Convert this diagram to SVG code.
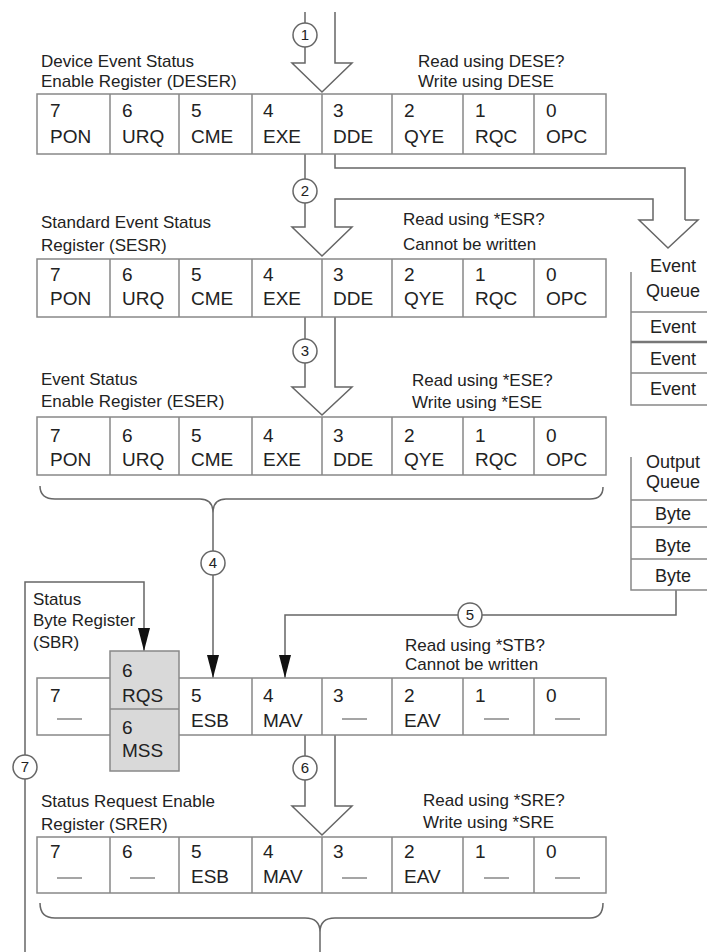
<svg xmlns="http://www.w3.org/2000/svg" width="707" height="952" viewBox="0 0 707 952">
<style>
text{font-family:"Liberation Sans",Arial,sans-serif;fill:#222}
.c{font-size:19px}
.l{font-size:17px}
.q{font-size:18px;text-anchor:middle}
.n{font-size:15px;text-anchor:middle}
.box{fill:#fff;stroke:#888;stroke-width:1.5}
.div{fill:none;stroke:#888;stroke-width:1.5}
.w{fill:none;stroke:#666;stroke-width:1.5}
.d{fill:none;stroke:#888;stroke-width:1.5}
.o{fill:#fff;stroke:#666;stroke-width:1.5}
</style>
<defs>
<marker id="ah" viewBox="0 0 23 12" refX="23" refY="6" markerWidth="23" markerHeight="12" markerUnits="userSpaceOnUse" orient="auto">
<path d="M0,0 L23,6 L0,12 Z" fill="#111"/>
</marker>
</defs>
<rect width="707" height="952" fill="#fff"/>

<g id="connectors">
<path class="w" d="M305,12 V23"/>
<circle class="o" cx="305" cy="35" r="12"/>
<path class="w" d="M305,47 V63 H292 L322,92 L352,63 H335 V12"/>
<path class="w" d="M335,154 V168 H685 V220"/>
<path class="w" d="M305,154 V179"/>
<circle class="o" cx="305" cy="191" r="12"/>
<path class="w" d="M305,203 V227 H292 L322,256 L352,227 H335 V199 H653 V220 H639 L668,248 L698,220 H685"/>
<path class="w" d="M305,317 V339"/>
<circle class="o" cx="305" cy="351" r="12"/>
<path class="w" d="M305,363 V387 H292 L322,415 L352,387 H335 V317"/>
<path class="w" d="M40,486 Q40,499 55,499 H200 Q213,499 213,513 Q213,499 226,499 H590 Q603,499 603,487"/>
<path class="w" d="M213,513 V551"/>
<circle class="o" cx="213" cy="563" r="12"/>
<path class="w" d="M213,575 V678" marker-end="url(#ah)"/>
<path class="w" d="M676,590 V615 H482"/>
<circle class="o" cx="470" cy="615" r="12"/>
<path class="w" d="M458,615 H285 V678" marker-end="url(#ah)"/>
<path class="w" d="M305,735 V756"/>
<circle class="o" cx="305" cy="768" r="12"/>
<path class="w" d="M305,780 V806 H292 L322,835 L352,806 H335 V735"/>
<path class="w" d="M40,903 Q40,918 55,918 H305 Q320,918 320,932 Q320,918 335,918 H590 Q603,918 603,903"/>
<path class="w" d="M320,932 V952"/>
<path class="w" d="M25,952 V779"/>
<circle class="o" cx="25" cy="767" r="12"/>
<path class="w" d="M25,755 V582 H144 V651" marker-end="url(#ah)"/>
<text class="n" x="305" y="40">1</text>
<text class="n" x="305" y="196">2</text>
<text class="n" x="305" y="356">3</text>
<text class="n" x="213" y="568">4</text>
<text class="n" x="470" y="620">5</text>
<text class="n" x="305" y="773">6</text>
<text class="n" x="25" y="772">7</text>
</g>

<g id="deser">
<text class="l" x="41" y="67">Device Event Status</text>
<text class="l" x="41" y="87">Enable Register (DESER)</text>
<text class="l" x="418" y="67">Read using DESE?</text>
<text class="l" x="418" y="87">Write  using DESE</text>
<rect class="box" x="37" y="94" width="569" height="60"/>
<path class="div" d="M110,94V154M179,94V154M252,94V154M322,94V154M392,94V154M463,94V154M534,94V154"/>
<g class="c">
<text x="50" y="117">7</text><text x="50" y="143">PON</text>
<text x="122" y="117">6</text><text x="122" y="143">URQ</text>
<text x="191" y="117">5</text><text x="191" y="143">CME</text>
<text x="263" y="117">4</text><text x="263" y="143">EXE</text>
<text x="333" y="117">3</text><text x="333" y="143">DDE</text>
<text x="404" y="117">2</text><text x="404" y="143">QYE</text>
<text x="475" y="117">1</text><text x="475" y="143">RQC</text>
<text x="546" y="117">0</text><text x="546" y="143">OPC</text>
</g>
</g>

<g id="sesr">
<text class="l" x="41" y="228">Standard Event Status</text>
<text class="l" x="41" y="251">Register (SESR)</text>
<text class="l" x="403" y="225">Read using *ESR?</text>
<text class="l" x="403" y="250">Cannot be written</text>
<rect class="box" x="37" y="259" width="569" height="58"/>
<path class="div" d="M110,259V317M179,259V317M252,259V317M322,259V317M392,259V317M463,259V317M534,259V317"/>
<g class="c">
<text x="50" y="281">7</text><text x="50" y="305">PON</text>
<text x="122" y="281">6</text><text x="122" y="305">URQ</text>
<text x="191" y="281">5</text><text x="191" y="305">CME</text>
<text x="263" y="281">4</text><text x="263" y="305">EXE</text>
<text x="333" y="281">3</text><text x="333" y="305">DDE</text>
<text x="404" y="281">2</text><text x="404" y="305">QYE</text>
<text x="475" y="281">1</text><text x="475" y="305">RQC</text>
<text x="546" y="281">0</text><text x="546" y="305">OPC</text>
</g>
</g>

<g id="event-queue">
<text class="q" x="673" y="272">Event</text>
<text class="q" x="673" y="297">Queue</text>
<path class="d" d="M631,272V405H707M631,312H707M631,373H707"/>
<path fill="none" stroke="#777" stroke-width="2.5" d="M631,342H707"/>
<text class="q" x="673" y="333">Event</text>
<text class="q" x="673" y="365">Event</text>
<text class="q" x="673" y="395">Event</text>
</g>

<g id="eser">
<text class="l" x="41" y="385">Event Status</text>
<text class="l" x="41" y="407">Enable Register (ESER)</text>
<text class="l" x="412" y="386">Read using *ESE?</text>
<text class="l" x="412" y="408">Write using *ESE</text>
<rect class="box" x="37" y="417" width="569" height="58"/>
<path class="div" d="M110,417V475M179,417V475M252,417V475M322,417V475M392,417V475M463,417V475M534,417V475"/>
<g class="c">
<text x="50" y="442">7</text><text x="50" y="466">PON</text>
<text x="122" y="442">6</text><text x="122" y="466">URQ</text>
<text x="191" y="442">5</text><text x="191" y="466">CME</text>
<text x="263" y="442">4</text><text x="263" y="466">EXE</text>
<text x="333" y="442">3</text><text x="333" y="466">DDE</text>
<text x="404" y="442">2</text><text x="404" y="466">QYE</text>
<text x="475" y="442">1</text><text x="475" y="466">RQC</text>
<text x="546" y="442">0</text><text x="546" y="466">OPC</text>
</g>
</g>

<g id="output-queue">
<text class="q" x="673" y="468">Output</text>
<text class="q" x="673" y="488">Queue</text>
<path class="d" d="M631,457V590H707M631,500H707M631,527H707M631,559H707"/>
<text class="q" x="673" y="520">Byte</text>
<text class="q" x="673" y="552">Byte</text>
<text class="q" x="673" y="582">Byte</text>
</g>

<g id="sbr">
<text class="l" x="33" y="605">Status</text>
<text class="l" x="33" y="626">Byte Register</text>
<text class="l" x="33" y="648">(SBR)</text>
<text class="l" x="405" y="651">Read using *STB?</text>
<text class="l" x="405" y="670">Cannot be written</text>
<rect class="box" x="37" y="678" width="569" height="57"/>
<path class="div" d="M252,678V735M322,678V735M392,678V735M463,678V735M534,678V735"/>
<rect x="110" y="651" width="69" height="120" fill="#d9d9d9" stroke="#888" stroke-width="1.5"/>
<path class="div" d="M110,709H179"/>
<g class="c">
<text x="50" y="702">7</text>
<text x="122" y="677">6</text><text x="122" y="702">RQS</text>
<text x="122" y="734">6</text><text x="122" y="757">MSS</text>
<text x="191" y="702">5</text><text x="191" y="727">ESB</text>
<text x="263" y="702">4</text><text x="263" y="727">MAV</text>
<text x="333" y="702">3</text>
<text x="404" y="702">2</text><text x="404" y="727">EAV</text>
<text x="475" y="702">1</text>
<text x="546" y="702">0</text>
</g>
<path class="d" d="M57,719H82M342,719H367M484,719H509M555,719H580"/>
</g>

<g id="srer">
<text class="l" x="41" y="807">Status Request Enable</text>
<text class="l" x="41" y="830">Register (SRER)</text>
<text class="l" x="423" y="806">Read using *SRE?</text>
<text class="l" x="423" y="828">Write using *SRE</text>
<rect class="box" x="37" y="837" width="569" height="56"/>
<path class="div" d="M110,837V893M179,837V893M252,837V893M322,837V893M392,837V893M463,837V893M534,837V893"/>
<g class="c">
<text x="50" y="858">7</text>
<text x="122" y="858">6</text>
<text x="191" y="858">5</text><text x="191" y="883">ESB</text>
<text x="263" y="858">4</text><text x="263" y="883">MAV</text>
<text x="333" y="858">3</text>
<text x="404" y="858">2</text><text x="404" y="883">EAV</text>
<text x="475" y="858">1</text>
<text x="546" y="858">0</text>
</g>
<path class="d" d="M57,878H82M130,878H155M342,878H367M484,878H509M555,878H580"/>
</g>
</svg>
